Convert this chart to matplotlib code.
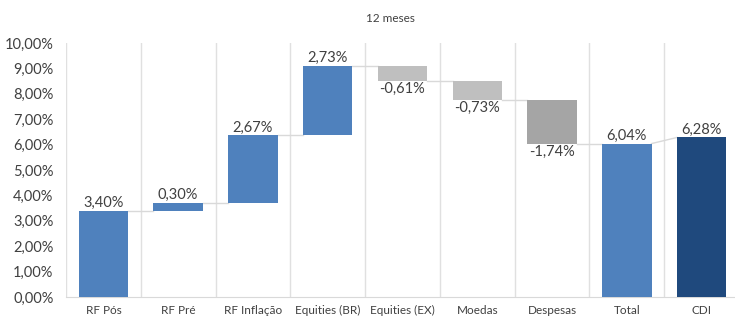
import numpy as np
import matplotlib.pyplot as plt
from matplotlib.ticker import FuncFormatter

plt.rcParams['font.family'] = ['Lato', 'DejaVu Sans']

categorias = ['RF Pós', 'RF Pré', 'RF Inflação', 'Equities (BR)', 'Equities (EX)',
              'Moedas', 'Despesas', 'Total', 'CDI']
valores = [3.40, 0.30, 2.67, 2.73, -0.61, -0.73, -1.74, 6.04, 6.28]
tipo = ['base', 'pos', 'pos', 'pos', 'neg', 'neg', 'desp', 'total', 'cdi']
yticks = np.arange(0, 10.01, 1.0)

cores = {'base': '#4F81BD', 'pos': '#4F81BD', 'neg': '#BFBFBF', 'desp': '#A5A5A5',
         'total': '#4F81BD', 'cdi': '#1F497D'}

def pct(v):
    return ('%.2f%%' % v).replace('.', ',')

fig = plt.figure(figsize=(7.35, 3.17), dpi=100)
ax = fig.add_axes([66/735, 20/317, 673/735, 254/317])

x = np.arange(len(categorias))
larg = 0.66
nivel = 0.0
topos = []
for i, (v, t) in enumerate(zip(valores, tipo)):
    if t in ('total', 'cdi', 'base'):
        base, topo = 0.0, v
        nivel = v
    else:
        base = nivel
        topo = nivel + v
        nivel = topo
    bot = min(base, topo)
    ax.bar(x[i], abs(topo - base), bottom=bot, width=larg, color=cores[t], zorder=3)
    topos.append(topo)
    if v >= 0:
        ax.text(x[i], max(base, topo) + 0.03, pct(v), ha='center', va='bottom',
                fontsize=10.5, color='#404040', zorder=4)
    else:
        ax.text(x[i], min(base, topo) - 0.03, pct(v), ha='center', va='top',
                fontsize=10.5, color='#404040', zorder=4)

# linhas de conexão
for i in range(len(valores) - 1):
    ax.plot([x[i] + larg/2, x[i+1] - larg/2], [topos[i], topos[i] if i < 7 else topos[i+1]],
            color='#D9D9D9', lw=1, zorder=2)

ax.set_xlim(-0.5, len(categorias) - 0.5)
ax.set_ylim(0, 10)
ax.set_yticks(yticks)
ax.yaxis.set_major_formatter(FuncFormatter(lambda v, p: pct(v)))
ax.set_xticks(x)
ax.set_xticklabels(categorias, fontsize=8.5, color='#404040')
ax.set_xticks(np.arange(-0.5, len(categorias), 1), minor=True)
ax.grid(axis='x', which='minor', color='#E0E0E0', lw=1, zorder=0)
ax.tick_params(axis='x', which='both', length=0, pad=6)
ax.tick_params(axis='y', length=0, labelsize=10.5, labelcolor='#404040', pad=9)
for s in ['top', 'right', 'left']:
    ax.spines[s].set_visible(False)
ax.spines['bottom'].set_color('#D9D9D9')

fig.text(390/735, 1 - 18/317, '12 meses', ha='center', va='center', fontsize=8.5, color='#404040')

fig.savefig('out.png', dpi=100)
